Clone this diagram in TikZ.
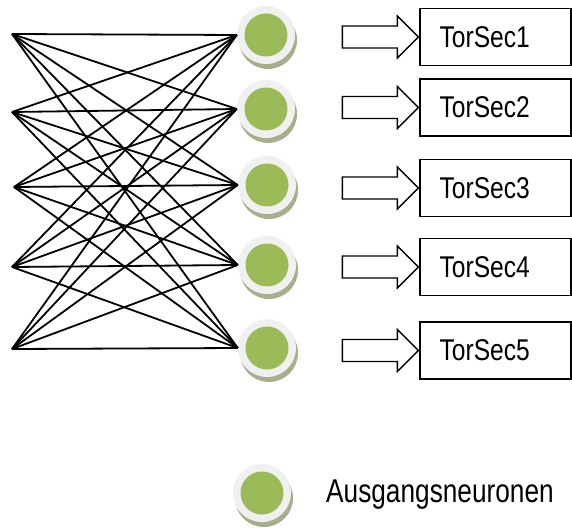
\documentclass[tikz,border=0pt]{standalone}
\usepackage{fontspec}
\usepackage{graphicx}
\setmainfont{Liberation Sans}
\usetikzlibrary{shadows}
\definecolor{neurgreen}{RGB}{155,187,89}
\definecolor{ringgray}{RGB}{240,240,240}
\definecolor{shadowc}{RGB}{166,174,140}
\tikzset{
  conn/.style={line width=1.8pt, black},
  neuron/.style={circle, minimum size=58pt, inner sep=0pt, fill=ringgray,
    drop shadow={shadow xshift=2pt, shadow yshift=-5pt, fill=shadowc, opacity=1},
    path picture={\fill[neurgreen] (path picture bounding box.center) circle (21.5pt);}},
  secbox/.style={draw, line width=1.3pt, minimum width=151pt, minimum height=57pt, inner sep=0pt},
  seclabel/.style={font=\fontsize{30}{30}\selectfont, inner sep=0pt, anchor=west},
  blockarrow/.style={draw, line width=1.3pt, fill=white, line join=miter}
}
\begin{document}
\begin{tikzpicture}[x=1pt,y=-1pt]
\useasboundingbox (0,0) rectangle (572,529);
% input points
\coordinate (L1) at (12,34);
\coordinate (L2) at (12,112);
\coordinate (L3) at (14,187);
\coordinate (L4) at (12,267);
\coordinate (L5) at (12,349);
% output neurons
\node[neuron] (N1) at (266,35) {};
\node[neuron] (N2) at (266,109) {};
\node[neuron] (N3) at (267,185) {};
\node[neuron] (N4) at (267,265) {};
\node[neuron] (N5) at (267,348) {};
% connections
\foreach \i in {1,...,5}{
  \foreach \j in {1,...,5}{
    \draw[conn] (L\i) -- (N\j.west);
  }
}
% boxes
\node[secbox] (B1) at (495.5,37) {};
\node[secbox] (B2) at (495.5,107.5) {};
\node[secbox] (B3) at (495.5,188) {};
\node[secbox] (B4) at (495.5,267) {};
\node[secbox] (B5) at (495.5,350.5) {};
\foreach \k in {1,...,5}{
  \node[seclabel] (T\k) at ([xshift=20pt]B\k.west) {\scalebox{0.82}[1]{TorSec\k}};
  \draw[blockarrow] ([xshift=-1pt]B\k.west) -- ++(-21,-21) -- ++(0,10) -- ++(-55,0) -- ++(0,22) -- ++(55,0) -- ++(0,10) -- cycle;
}
% legend
\node[neuron] (LG) at (262,493) {};
\node[font=\fontsize{33}{33}\selectfont, inner sep=0pt, anchor=west] (LT) at (326,495) {\scalebox{0.795}[1]{Ausgangsneuronen}};
\end{tikzpicture}
\end{document}
